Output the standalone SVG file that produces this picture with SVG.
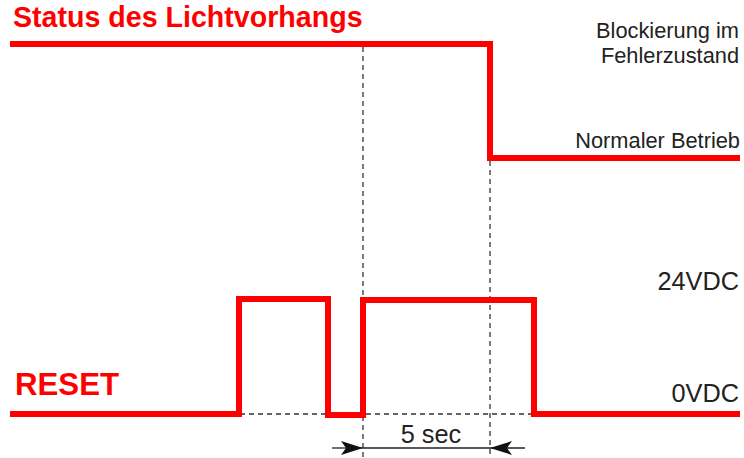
<svg xmlns="http://www.w3.org/2000/svg" width="744" height="458" viewBox="0 0 744 458">
<style>
.sig{fill:none;stroke:#ff0000;stroke-width:6;stroke-linejoin:miter;stroke-linecap:butt}
.dash{fill:none;stroke:#333;stroke-width:1.3;stroke-dasharray:5 4}
.dim{fill:none;stroke:#222;stroke-width:1.3}
.title{font-family:"Liberation Sans",Arial,sans-serif;font-weight:bold;fill:#ff0000}
.lbl{font-family:"Liberation Sans",Arial,sans-serif;fill:#222;font-size:21.8px}
.big{font-size:25.3px}
</style>
<defs>
<marker id="ah" viewBox="0 0 22 14" refX="22" refY="7" markerWidth="22" markerHeight="14" markerUnits="userSpaceOnUse" orient="auto">
<path d="M0,0 L22,7 L0,14 L5,7 Z" fill="#111"/>
</marker>
</defs>
<rect width="744" height="458" fill="#fff"/>
<g id="connectors">
<path class="dash" d="M363,47 V458"/>
<path class="dash" d="M490,161 V458"/>
<path class="dash" d="M240,414 H534"/>
<path class="dim" d="M332,448 H363" marker-end="url(#ah)"/>
<path class="dim" d="M363,448 H490"/>
<path class="dim" d="M525,448 H490" marker-end="url(#ah)"/>
</g>
<g id="status">
<text class="title" x="13" y="27" font-size="28.6">Status des Lichtvorhangs</text>
<path class="sig" d="M10,44 H490 V158 H740"/>
<text class="lbl" x="739" y="38" text-anchor="end">Blockierung im</text>
<text class="lbl" x="739" y="63" text-anchor="end">Fehlerzustand</text>
<text class="lbl" x="740" y="148" text-anchor="end">Normaler Betrieb</text>
</g>
<g id="reset">
<text class="title" x="15" y="395" font-size="31.2">RESET</text>
<path class="sig" d="M10,414 H239 V299 H328 V415 H363 V300 H534 V414 H740"/>
<text class="lbl big" x="739" y="290" text-anchor="end">24VDC</text>
<text class="lbl big" x="739" y="402" text-anchor="end">0VDC</text>
</g>
<g id="duration">
<text class="lbl big" x="431" y="443" text-anchor="middle">5 sec</text>
</g>
</svg>
